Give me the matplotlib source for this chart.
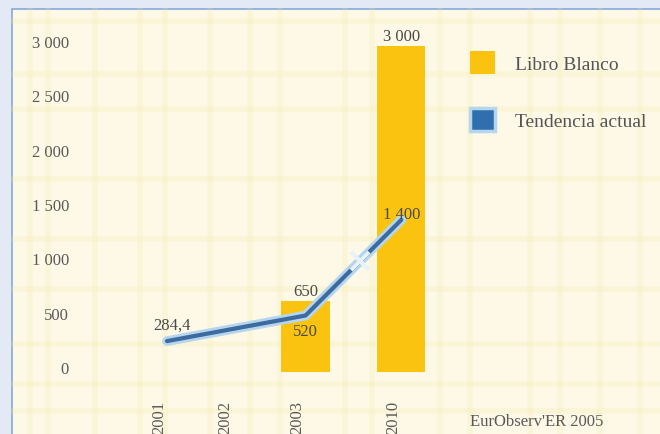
import numpy as np
import matplotlib
matplotlib.use("Agg")
import matplotlib.pyplot as plt
from matplotlib.patches import Rectangle, Patch
from matplotlib.lines import Line2D
import matplotlib.transforms as mtransforms

# ---- data ----
years = ["2001", "2002", "2003", "2010"]
bar_years = ["2003", "2010"]
bar_values = [650, 3000]            # Libro Blanco
line_years = ["2001", "2003", "2010"]
line_values = [284.4, 520, 1400]    # Tendencia actual
bar_labels = ["650", "3 000"]
line_labels = ["284,4", "520", "1 400"]
yticks = [0, 500, 1000, 1500, 2000, 2500, 3000]
ytick_labels = ["0", "500", "1 000", "1 500", "2 000", "2 500", "3 000"]
source = "EurObserv'ER 2005"

# ---- layout ----
W, H = 660, 435
xpos = {"2001": 0.0, "2002": 1.0, "2003": 2.1, "2010": 3.55}
serif = ["Liberation Serif", "DejaVu Serif"]
txt_col = "#4a4a4a"
yellow = "#f9c30f"
blue_dark = "#3d6b9f"
blue_light = "#b5d6ee"

fig = plt.figure(figsize=(W / 100, H / 100), dpi=100)
fig.patch.set_facecolor("#e3eaf5")

# panel
panel = Rectangle((12 / W, -0.05), 1.1, 1 - 10 / H + 0.05, transform=fig.transFigure,
                  facecolor="#fdf9e6", edgecolor="#86a8dc", linewidth=1.2, zorder=-2)
fig.add_artist(panel)
# faint plaid stripes (background only)
rng_x = [30, 48, 95, 140, 165, 210, 250, 280, 345, 372, 440, 470, 530, 560, 600, 640]
for xp in rng_x:
    fig.add_artist(Line2D([xp / W, xp / W], [0, 1 - 11 / H], transform=fig.transFigure,
                          color="#f6e7a0", alpha=0.2, lw=4, zorder=-1))
for yp in [22, 75, 110, 180, 240, 290, 345, 385, 412]:
    fig.add_artist(Line2D([13 / W, 1], [1 - yp / H, 1 - yp / H], transform=fig.transFigure,
                          color="#f6e7a0", alpha=0.2, lw=4, zorder=-1))

ax = fig.add_axes([80 / W, 1 - 373 / H, 380 / W, 326 / H])
ax.set_zorder(1)
ax.set_facecolor("none")
for s in ax.spines.values():
    s.set_visible(False)
ax.set_ylim(0, 3000)
ax.set_xlim(-1.318, -1.318 + 380 / 66)

# bars
bx = [xpos[y] for y in bar_years]
ax.bar(bx, bar_values, width=0.73, color=yellow, zorder=2)
for x, v, lab in zip(bx, bar_values, bar_labels):
    ax.text(x, v + 20, lab, ha="center", va="bottom", fontsize=12, family=serif,
            color=txt_col, zorder=5)

# line
lx = np.array([xpos[y] for y in line_years])
lv = np.array(line_values)
ax.plot(lx, lv, color=blue_light, lw=7, solid_capstyle="round", zorder=3)
ax.plot(lx, lv, color=blue_dark, lw=3, solid_capstyle="round", zorder=4)
# break mark on last segment
fx = lx[1] + 0.57 * (lx[2] - lx[1])
fv = lv[1] + 0.57 * (lv[2] - lv[1])
ax.plot([fx], [fv], marker="x", ms=13, mew=3, color="#e8f2fa", zorder=5)

offs = [(0.08, 150, "center"), (0.0, -145, "center"), (0.0, 50, "center")]
for x, v, lab, (dx, dy, ha) in zip(lx, lv, line_labels, offs):
    ax.text(x + dx, v + dy, lab, ha=ha, va="center", fontsize=12, family=serif,
            color=txt_col, zorder=6)

# ticks
ax.set_yticks(yticks)
ax.set_yticklabels(ytick_labels, family=serif, fontsize=12, color="#5a5a5a")
ax.set_xticks([xpos[y] for y in years])
ax.set_xticklabels(years, family=serif, fontsize=12, color="#5a5a5a", rotation=90,
                   va="top", ha="center")
ax.tick_params(axis="both", length=0)
ax.tick_params(axis="y", pad=8)
ax.tick_params(axis="x", pad=20)
yoff = mtransforms.ScaledTranslation(0, 5 / 100, fig.dpi_scale_trans)
for lab in ax.get_yticklabels():
    lab.set_transform(lab.get_transform() + yoff)
xoff = mtransforms.ScaledTranslation(-8 / 100, 0, fig.dpi_scale_trans)
for lab in ax.get_xticklabels():
    lab.set_transform(lab.get_transform() + xoff)

# legend
handles = [Patch(facecolor=yellow, edgecolor="none", label="Libro Blanco"),
           Patch(facecolor="#2f6fae", edgecolor=blue_light, linewidth=2.5,
                 label="Tendencia actual")]
leg = fig.legend(handles=handles, loc="upper left", bbox_to_anchor=(470 / W, 1 - 52 / H),
                 frameon=False, borderpad=0, borderaxespad=0, handlelength=1.3,
                 handleheight=1.45, handletextpad=1.0, labelspacing=1.72,
                 prop={"family": serif, "size": 14})
for t in leg.get_texts():
    t.set_color("#555555")

fig.text(470 / W, 1 - 422 / H, source, ha="left", va="center", fontsize=12,
         family=serif, color="#5a5a5a")

fig.savefig("out.png", dpi=100, facecolor=fig.get_facecolor())
